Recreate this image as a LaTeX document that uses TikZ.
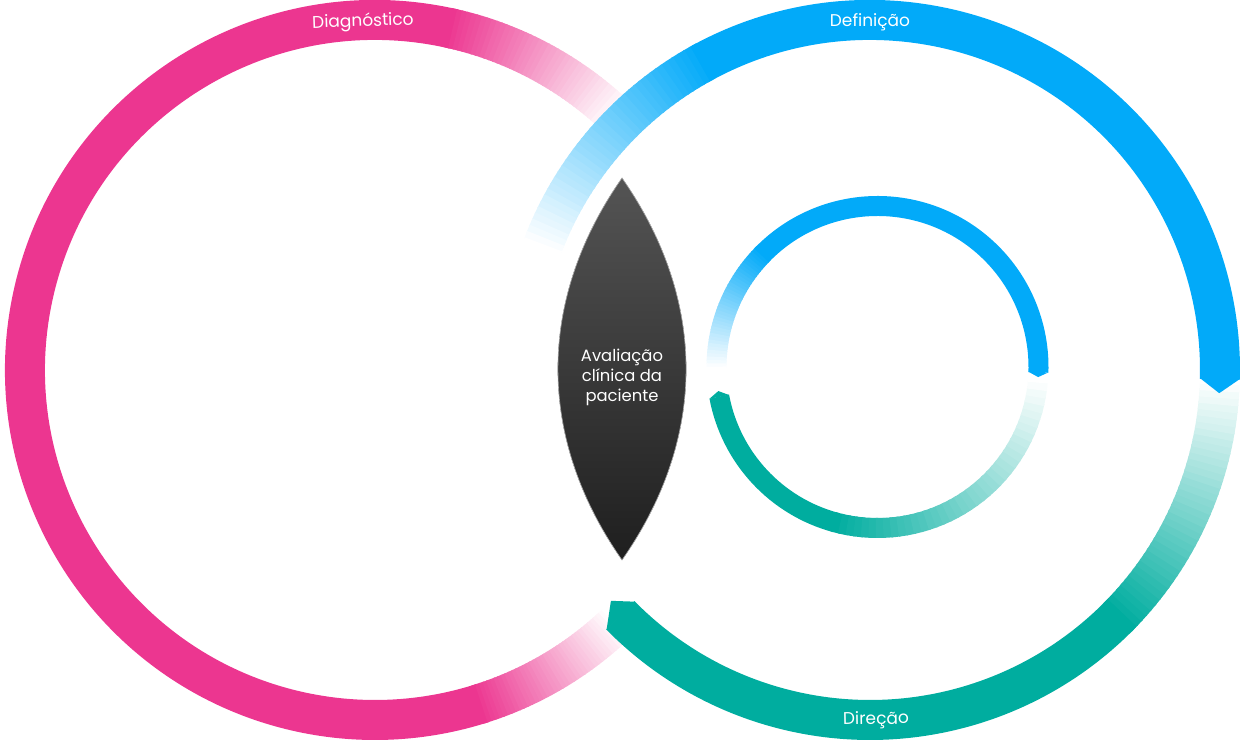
\documentclass[tikz,border=0pt]{standalone}
\usepackage{fontspec}
\setmainfont{Poppins}
\usepackage{tikz}
\usetikzlibrary{shapes.geometric}
\definecolor{diagpink}{HTML}{EC3690}
\definecolor{defblue}{HTML}{02AAF9}
\definecolor{dirteal}{HTML}{00AD9F}

% arc round #1 (radius #2, style #3) going from colour #4 at angle #5 to white at angle #6
\newcommand{\fadearc}[6]{%
  \foreach \k in {0,...,39}{
    \pgfmathsetmacro{\fa}{(#5)+((#6)-(#5))*\k/40}
    \pgfmathsetmacro{\fb}{(#5)+((#6)-(#5))*(\k+1.3)/40}
    \pgfmathtruncatemacro{\fp}{100-100*\k/39}
    \draw[#3, draw=#4!\fp!white] (#1) ++(\fa:#2) arc (\fa:\fb:#2);
  }}

\begin{document}
\begin{tikzpicture}[
    x=0.5pt, y=0.5pt,
    ring/.style={line width=20pt},
    innerring/.style={line width=10pt},
    phase/.style={
		text=white,
		inner sep=0pt,
		font=\fontsize{8.5}{10}\selectfont
	},
    lenstext/.style={
		text=white,
		align=center,
		font=\fontsize{8.2}{10}\selectfont
	}
  ]
  \useasboundingbox (0,0) rectangle (1241,743);
  % centres of the rings
  \coordinate (diag) at (375,373);
  \coordinate (def) at (870,373);
  \coordinate (core) at (877.5,376);

  % pink ring
  \draw[ring, diagpink] (diag) ++(77:350) arc (77:288:350);
  \fadearc{diag}{350}{ring}{diagpink}{78}{46}
  \fadearc{diag}{350}{ring}{diagpink}{287}{314}

  % teal half of the right ring
  \draw[ring, dirteal] (def) ++(-135.5:350) arc (-135.5:-44:350);
  \fadearc{def}{350}{ring}{dirteal}{-45}{-1.3}
  \fill[dirteal] (def) +(-135.4:330) -- +(-135.4:370) -- +(-138.3:347) -- cycle;

  % blue half of the right ring
  \draw[ring, defblue] (def) ++(119:350) arc (119:-1.5:350);
  \fadearc{def}{350}{ring}{defblue}{118}{160}
  \fill[defblue] (def) +(-1.4:330) -- +(-1.4:370) -- +(-3.8:350) -- cycle;

  % inner ring
  \draw[innerring, dirteal] (core) ++(-169.4:161) arc (-169.4:-105:161);
  \fadearc{core}{161}{innerring}{dirteal}{-106}{-3}
  \fill[dirteal] (core) +(-169.3:151) -- +(-169.3:171) -- +(-171.4:161) -- cycle;
  \draw[innerring, defblue] (core) ++(136:161) arc (136:-1.9:161);
  \fadearc{core}{161}{innerring}{defblue}{135}{181}
  \fill[defblue] (core) +(-1.8:151) -- +(-1.8:171) -- +(-3.6:161) -- cycle;

  % the lens in the middle
  \coordinate (lenstop) at (622,565);
  \coordinate (lensbottom) at (622,183);
  \fill[top color=black!67, bottom color=black!88, draw=black!30, line width=0.3pt]
    (lenstop) to[bend right=35] (lensbottom) to[bend right=35] (lenstop) -- cycle;
  \node[lenstext] (lens) at (622,366) {Avaliação\\clínica da\\paciente};

  % labels on the rings
  \node[phase, rotate=2] (diagnostico) at (363,721) {Diagnóstico};
  \node[phase] (definicao) at (870,721) {Definição};
  \node[phase, rotate=1] (direcao) at (876,23) {Direção};

\end{tikzpicture}
\end{document}
